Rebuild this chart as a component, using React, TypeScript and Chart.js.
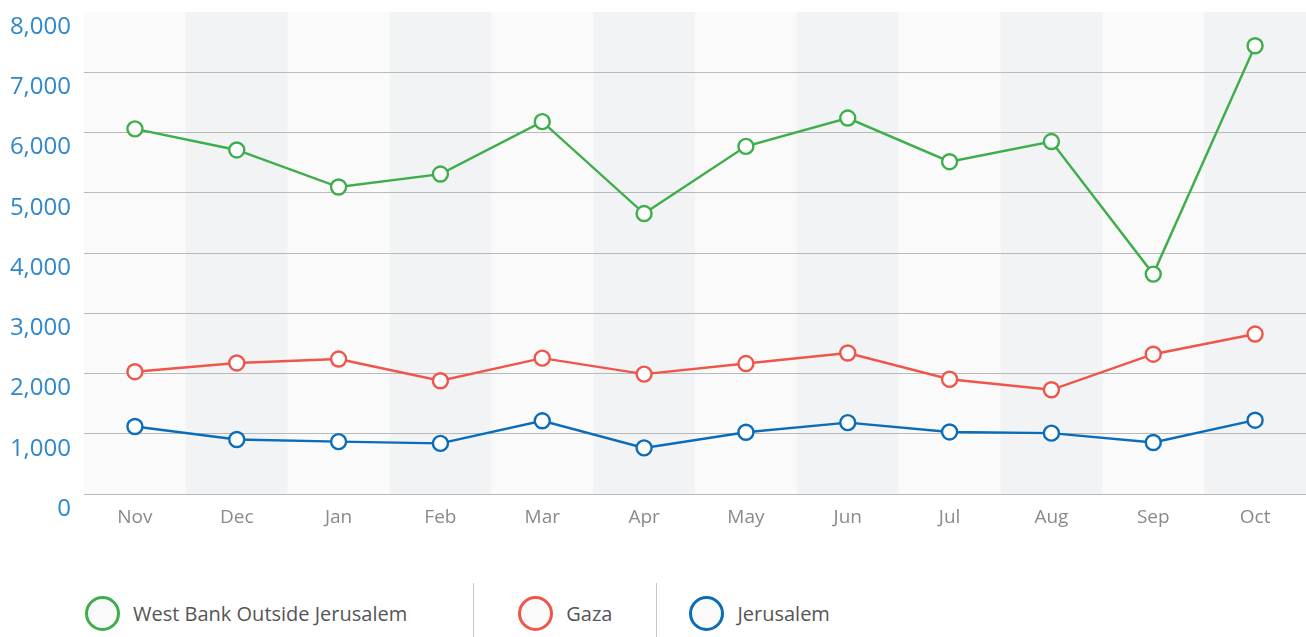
import React, { useEffect, useRef } from "react";
import { Chart, registerables } from "chart.js";

Chart.register(...registerables);

const months = ["Nov", "Dec", "Jan", "Feb", "Mar", "Apr", "May", "Jun", "Jul", "Aug", "Sep", "Oct"];
const westBank = [6060, 5710, 5095, 5310, 6180, 4655, 5770, 6240, 5515, 5850, 3650, 7440];
const gaza = [2030, 2175, 2240, 1880, 2255, 1990, 2165, 2340, 1905, 1730, 2320, 2655];
const jerusalem = [1120, 905, 870, 840, 1215, 765, 1025, 1185, 1030, 1010, 855, 1225];

const seriesNames = ["West Bank Outside Jerusalem", "Gaza", "Jerusalem"];
const seriesColors = ["#3dae49", "#ef5548", "#0b6cb9"];

const FONT = "'Open Sans', sans-serif";

const bandsPlugin = {
  id: "bands",
  beforeDraw(chart: any) {
    const { ctx, chartArea, scales } = chart;
    const x = scales.x;
    const n = chart.data.labels.length;
    const step = n > 1 ? x.getPixelForValue(1) - x.getPixelForValue(0) : chartArea.width;
    ctx.save();
    for (let i = 0; i < n; i++) {
      const c = x.getPixelForValue(i);
      ctx.fillStyle = i % 2 === 1 ? "#f2f3f5" : "#fafafa";
      ctx.fillRect(c - step / 2, chartArea.top, step, chartArea.bottom - chartArea.top);
    }
    ctx.restore();
  },
};

function LineChart() {
  const ref = useRef<HTMLCanvasElement | null>(null);
  useEffect(() => {
    if (!ref.current) return;
    const datasets = [westBank, gaza, jerusalem].map((d, i) => ({
      label: seriesNames[i],
      data: d,
      borderColor: seriesColors[i],
      backgroundColor: seriesColors[i],
      borderWidth: 2.4,
      pointRadius: 7.5,
      pointHoverRadius: 7.5,
      pointBorderWidth: 2.4,
      pointBackgroundColor: "#ffffff",
      pointBorderColor: seriesColors[i],
      tension: 0,
      fill: false,
      clip: false as any,
    }));
    const chart = new Chart(ref.current, {
      type: "line",
      data: { labels: months, datasets },
      options: {
        animation: false,
        responsive: false,
        maintainAspectRatio: false,
        layout: { autoPadding: false, padding: { top: 12, right: 0, bottom: 0, left: 0 } },
        plugins: { legend: { display: false }, tooltip: { enabled: false } },
        scales: {
          x: {
            offset: true,
            grid: { display: false, drawTicks: false },
            border: { display: false },
            ticks: {
              color: "#8a8a8a",
              font: { family: FONT, size: 19 },
              padding: 12,
              maxRotation: 0,
              autoSkip: false,
            },
            afterFit(scale: any) {
              scale.height = 51;
              scale.paddingLeft = 0;
              scale.paddingRight = 0;
            },
          },
          y: {
            min: 0,
            max: 8000,
            grid: {
              drawTicks: false,
              lineWidth: 1,
              color: (ctx: any) => (ctx.tick && ctx.tick.value === 8000 ? "rgba(0,0,0,0)" : "#b9b9b9"),
            },
            border: { display: false },
            ticks: {
              stepSize: 1000,
              color: "#2f88cb",
              font: { family: FONT, size: 24 },
              padding: 13,
              labelOffset: 15,
              callback: (v: any) => Number(v).toLocaleString("en-US"),
            },
            afterFit(scale: any) {
              scale.width = 84;
              scale.paddingTop = 0;
              scale.paddingBottom = 0;
            },
          },
        },
      },
      plugins: [bandsPlugin],
    });
    return () => chart.destroy();
  }, []);
  return <canvas ref={ref} width={1306} height={545} style={{ display: "block", width: 1306, height: 545 }} />;
}

function Legend() {
  const item = (i: number, ml: number, mr: number) => (
    <div style={{ display: "flex", alignItems: "center", marginLeft: ml, marginRight: mr, marginTop: 13 }}>
      <div
        style={{
          width: 35,
          height: 35,
          boxSizing: "border-box",
          border: `3px solid ${seriesColors[i]}`,
          borderRadius: "50%",
          background: "#fafafa",
          marginRight: 13,
          flex: "0 0 auto",
        }}
      />
      <span style={{ fontFamily: FONT, fontSize: 20, color: "#555", whiteSpace: "nowrap" }}>{seriesNames[i]}</span>
    </div>
  );
  const sep = <div style={{ width: 1, alignSelf: "stretch", background: "#c9c9c9" }} />;
  return (
    <div
      style={{
        position: "absolute",
        left: 0,
        top: 583,
        height: 54,
        display: "flex",
        alignItems: "flex-start",
        paddingLeft: 85,
      }}
    >
      {item(0, 0, 66)}
      {sep}
      {item(1, 44, 44)}
      {sep}
      {item(2, 32, 0)}
    </div>
  );
}

export default function App() {
  return (
    <div style={{ position: "fixed", left: 0, top: 0, width: 1306, height: 637, background: "#ffffff", overflow: "hidden" }}>
      <LineChart />
      <Legend />
    </div>
  );
}
